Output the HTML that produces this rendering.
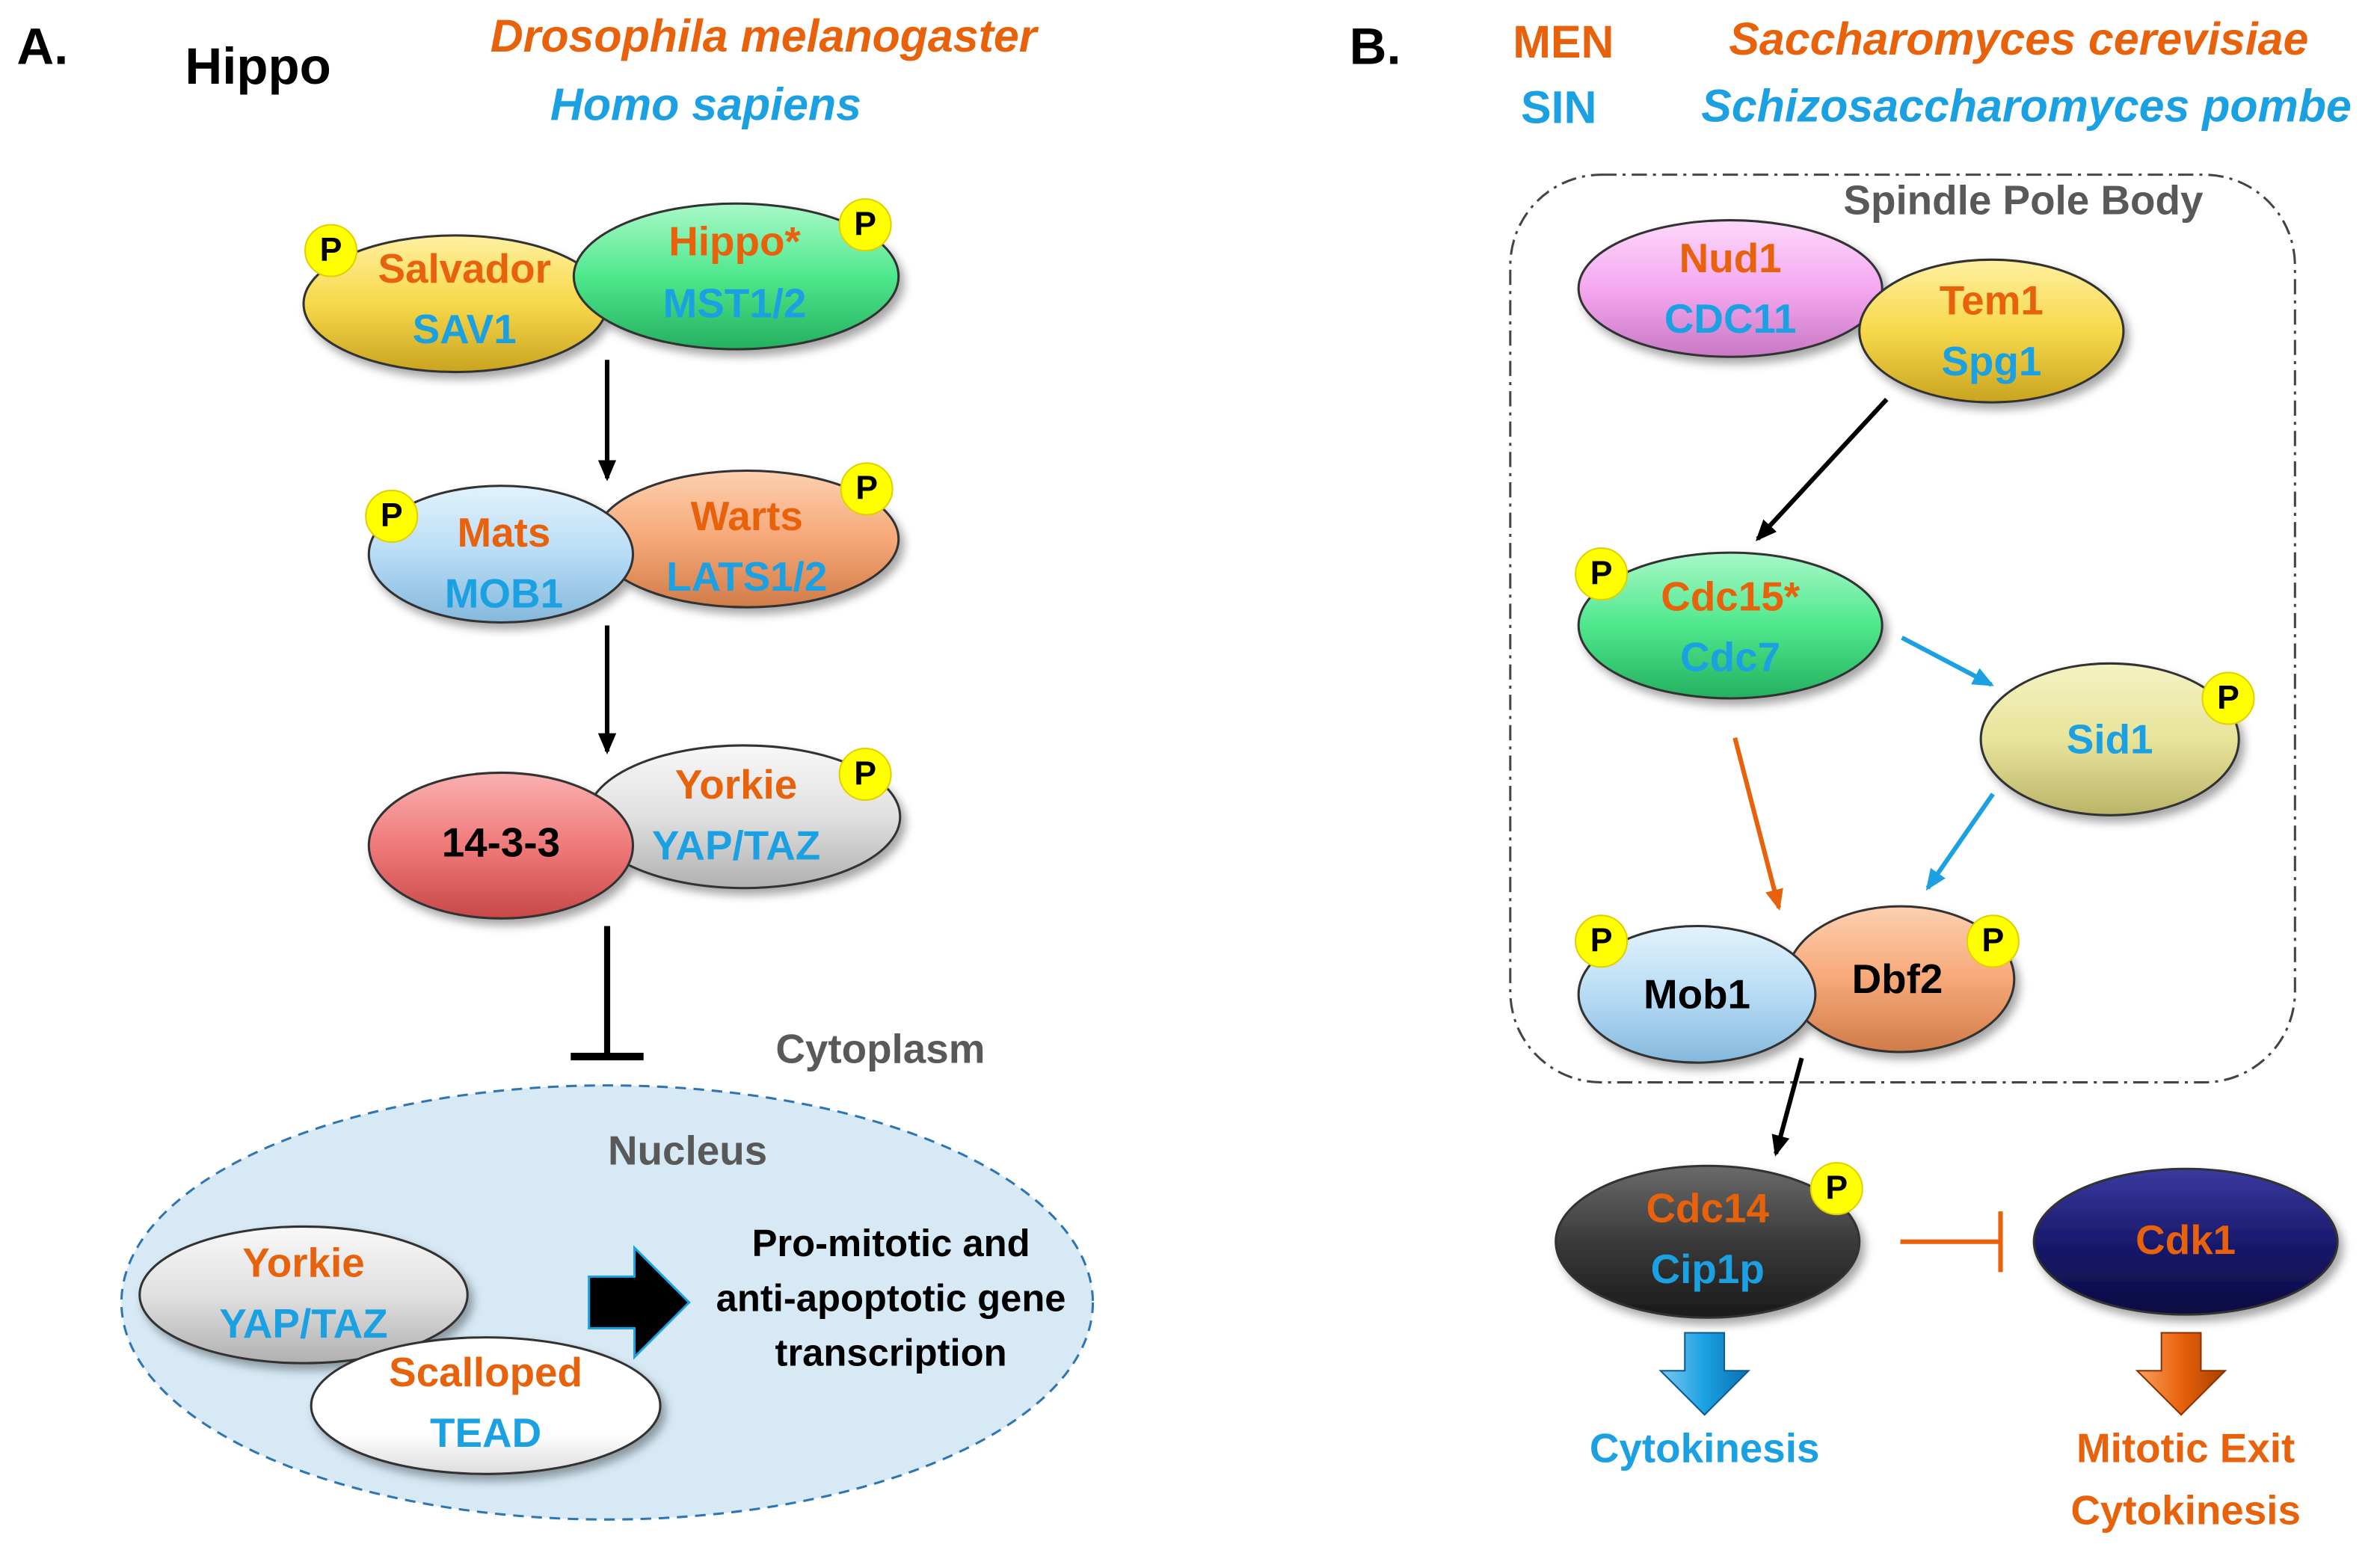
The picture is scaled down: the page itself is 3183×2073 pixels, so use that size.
<!DOCTYPE html>
<html><head><meta charset="utf-8"><style>
html,body{margin:0;padding:0;background:#fff;}
svg{display:block;}
text{font-family:"Liberation Sans",sans-serif;font-weight:bold;text-anchor:middle;dominant-baseline:middle;}
</style></head><body>
<svg width="3183" height="2073" viewBox="0 0 1568 1021" xmlns="http://www.w3.org/2000/svg">
<defs>
<filter id="sh" x="-20%" y="-20%" width="150%" height="160%"><feDropShadow dx="3" dy="4" stdDeviation="3" flood-color="#000" flood-opacity="0.35"/></filter>
<linearGradient id="gY" x1="0" y1="0" x2="0" y2="1"><stop offset="0" stop-color="#fff0a0"/><stop offset="0.5" stop-color="#f7d84a"/><stop offset="1" stop-color="#c9a420"/></linearGradient>
<linearGradient id="gG" x1="0" y1="0" x2="0" y2="1"><stop offset="0" stop-color="#a8f8c8"/><stop offset="0.5" stop-color="#4ee88c"/><stop offset="1" stop-color="#25b060"/></linearGradient>
<linearGradient id="gB" x1="0" y1="0" x2="0" y2="1"><stop offset="0" stop-color="#e2f2fc"/><stop offset="0.5" stop-color="#b8dcf5"/><stop offset="1" stop-color="#84b8dc"/></linearGradient>
<linearGradient id="gO" x1="0" y1="0" x2="0" y2="1"><stop offset="0" stop-color="#fcd0b0"/><stop offset="0.5" stop-color="#f7a878"/><stop offset="1" stop-color="#d07c48"/></linearGradient>
<linearGradient id="gGr" x1="0" y1="0" x2="0" y2="1"><stop offset="0" stop-color="#f8f8f8"/><stop offset="0.5" stop-color="#e0e0e0"/><stop offset="1" stop-color="#b0b0b0"/></linearGradient>
<linearGradient id="gR" x1="0" y1="0" x2="0" y2="1"><stop offset="0" stop-color="#fab0b0"/><stop offset="0.5" stop-color="#f07a7a"/><stop offset="1" stop-color="#c84848"/></linearGradient>
<linearGradient id="gW" x1="0" y1="0" x2="0" y2="1"><stop offset="0" stop-color="#ffffff"/><stop offset="0.7" stop-color="#ffffff"/><stop offset="1" stop-color="#dddddd"/></linearGradient>
<linearGradient id="gPk" x1="0" y1="0" x2="0" y2="1"><stop offset="0" stop-color="#fcd8fa"/><stop offset="0.5" stop-color="#f5a8f0"/><stop offset="1" stop-color="#c878c4"/></linearGradient>
<linearGradient id="gK" x1="0" y1="0" x2="0" y2="1"><stop offset="0" stop-color="#f4f2c4"/><stop offset="0.5" stop-color="#e8e49a"/><stop offset="1" stop-color="#bab468"/></linearGradient>
<linearGradient id="gD" x1="0" y1="0" x2="0" y2="1"><stop offset="0" stop-color="#6a6a6a"/><stop offset="0.5" stop-color="#3a3a3a"/><stop offset="1" stop-color="#1a1a1a"/></linearGradient>
<linearGradient id="gN" x1="0" y1="0" x2="0" y2="1"><stop offset="0" stop-color="#3a3aa0"/><stop offset="0.5" stop-color="#1a1a6e"/><stop offset="1" stop-color="#0a0a40"/></linearGradient>
<linearGradient id="gBA" x1="0" y1="0" x2="1" y2="0"><stop offset="0" stop-color="#7cc8f0"/><stop offset="0.5" stop-color="#1ba1e2"/><stop offset="1" stop-color="#0a70b0"/></linearGradient>
<linearGradient id="gOA" x1="0" y1="0" x2="1" y2="0"><stop offset="0" stop-color="#f8a060"/><stop offset="0.5" stop-color="#e8620c"/><stop offset="1" stop-color="#a84000"/></linearGradient>
<marker id="ak" markerWidth="10" markerHeight="10" refX="8" refY="5" orient="auto" markerUnits="userSpaceOnUse"><path d="M0,0 L10,5 L0,10 z" fill="#000"/></marker>
<marker id="ab" markerWidth="14" markerHeight="12" refX="12" refY="6" orient="auto" markerUnits="userSpaceOnUse"><path d="M0,0 L14,6 L0,12 z" fill="#1ba1e2"/></marker>
<marker id="ao" markerWidth="14" markerHeight="12" refX="12" refY="6" orient="auto" markerUnits="userSpaceOnUse"><path d="M0,0 L14,6 L0,12 z" fill="#e8620c"/></marker>
<marker id="ak2" markerWidth="14" markerHeight="12" refX="12" refY="6" orient="auto" markerUnits="userSpaceOnUse"><path d="M0,0 L14,6 L0,12 z" fill="#000"/></marker>
</defs>

<!-- Panel A -->
<text x="28" y="33" font-size="34" fill="#000">A.</text>
<text x="170" y="46" font-size="34" fill="#000">Hippo</text>
<text x="503" y="26" font-size="30" fill="#e8620c" font-style="italic">Drosophila melanogaster</text>
<text x="465" y="71" font-size="30" fill="#1ba1e2" font-style="italic">Homo sapiens</text>

<g filter="url(#sh)" stroke="#333" stroke-width="1.5">
<ellipse cx="300" cy="200" rx="100" ry="45" fill="url(#gY)"/>
<ellipse cx="485" cy="182" rx="107" ry="48" fill="url(#gG)"/>
<ellipse cx="492" cy="355" rx="100" ry="45" fill="url(#gO)"/>
<ellipse cx="330" cy="365" rx="87" ry="45" fill="url(#gB)"/>
<ellipse cx="490" cy="538" rx="103" ry="47" fill="url(#gGr)"/>
<ellipse cx="330" cy="557" rx="87" ry="48" fill="url(#gR)"/>
</g>
<text x="306" y="179" font-size="27" fill="#e8620c">Salvador</text>
<text x="306" y="219" font-size="27" fill="#1ba1e2">SAV1</text>
<text x="484" y="161" font-size="27" fill="#e8620c">Hippo*</text>
<text x="484" y="202" font-size="27" fill="#1ba1e2">MST1/2</text>
<text x="332" y="353" font-size="27" fill="#e8620c">Mats</text>
<text x="332" y="393" font-size="27" fill="#1ba1e2">MOB1</text>
<text x="492" y="342" font-size="27" fill="#e8620c">Warts</text>
<text x="492" y="382" font-size="27" fill="#1ba1e2">LATS1/2</text>
<text x="485" y="519" font-size="27" fill="#e8620c">Yorkie</text>
<text x="485" y="559" font-size="27" fill="#1ba1e2">YAP/TAZ</text>
<text x="330" y="557" font-size="27" fill="#000">14-3-3</text>

<line x1="400" y1="237" x2="400" y2="315" stroke="#000" stroke-width="3" marker-end="url(#ak2)"/>
<line x1="400" y1="412" x2="400" y2="495" stroke="#000" stroke-width="3" marker-end="url(#ak2)"/>
<line x1="400" y1="610" x2="400" y2="695" stroke="#000" stroke-width="4"/>
<line x1="376" y1="696" x2="424" y2="696" stroke="#000" stroke-width="5"/>
<text x="580" y="693" font-size="27" fill="#595959">Cytoplasm</text>

<ellipse cx="400" cy="858" rx="320" ry="143" fill="#d6e9f5" stroke="#2e75b6" stroke-width="1.5" stroke-dasharray="7,5"/>
<text x="453" y="760" font-size="27" fill="#595959">Nucleus</text>
<g filter="url(#sh)" stroke="#333" stroke-width="1.5">
<ellipse cx="200" cy="853" rx="108" ry="45" fill="url(#gGr)"/>
<ellipse cx="320" cy="926" rx="115" ry="45" fill="url(#gW)"/>
</g>
<text x="200" y="834" font-size="27" fill="#e8620c">Yorkie</text>
<text x="200" y="874" font-size="27" fill="#1ba1e2">YAP/TAZ</text>
<text x="320" y="906" font-size="27" fill="#e8620c">Scalloped</text>
<text x="320" y="946" font-size="27" fill="#1ba1e2">TEAD</text>
<path d="M388,841 L418,841 L418,822 L454,858 L418,894 L418,875 L388,875 z" fill="#000" stroke="#1ba1e2" stroke-width="1.5"/>
<text x="587" y="821" font-size="25" fill="#000">Pro-mitotic and</text>
<text x="587" y="857" font-size="25" fill="#000">anti-apoptotic gene</text>
<text x="587" y="893" font-size="25" fill="#000">transcription</text>

<!-- Panel B -->
<text x="906" y="33" font-size="34" fill="#000">B.</text>
<text x="1030" y="30" font-size="30" fill="#e8620c">MEN</text>
<text x="1027" y="73" font-size="30" fill="#1ba1e2">SIN</text>
<text x="1330" y="28" font-size="30" fill="#e8620c" font-style="italic">Saccharomyces cerevisiae</text>
<text x="1335" y="72" font-size="30" fill="#1ba1e2" font-style="italic">Schizosaccharomyces pombe</text>

<rect x="995" y="115" width="517" height="598" rx="60" fill="none" stroke="#444" stroke-width="1.5" stroke-dasharray="10,4,2,4"/>
<text x="1333" y="134" font-size="27" fill="#595959">Spindle Pole Body</text>

<g filter="url(#sh)" stroke="#333" stroke-width="1.5">
<ellipse cx="1140" cy="190" rx="100" ry="45" fill="url(#gPk)"/>
<ellipse cx="1312" cy="218" rx="87" ry="47" fill="url(#gY)"/>
<ellipse cx="1140" cy="412" rx="100" ry="48" fill="url(#gG)"/>
<ellipse cx="1390" cy="487" rx="85" ry="50" fill="url(#gK)"/>
<ellipse cx="1252" cy="645" rx="75" ry="48" fill="url(#gO)"/>
<ellipse cx="1118" cy="655" rx="78" ry="45" fill="url(#gB)"/>
<ellipse cx="1125" cy="818" rx="100" ry="50" fill="url(#gD)"/>
<ellipse cx="1440" cy="818" rx="100" ry="48" fill="url(#gN)"/>
</g>
<text x="1140" y="172" font-size="27" fill="#e8620c">Nud1</text>
<text x="1140" y="212" font-size="27" fill="#1ba1e2">CDC11</text>
<text x="1312" y="200" font-size="27" fill="#e8620c">Tem1</text>
<text x="1312" y="240" font-size="27" fill="#1ba1e2">Spg1</text>
<text x="1140" y="395" font-size="27" fill="#e8620c">Cdc15*</text>
<text x="1140" y="435" font-size="27" fill="#1ba1e2">Cdc7</text>
<text x="1390" y="489" font-size="27" fill="#1ba1e2">Sid1</text>
<text x="1118" y="657" font-size="27" fill="#000">Mob1</text>
<text x="1250" y="647" font-size="27" fill="#000">Dbf2</text>
<text x="1125" y="798" font-size="27" fill="#e8620c">Cdc14</text>
<text x="1125" y="838" font-size="27" fill="#1ba1e2">Cip1p</text>
<text x="1440" y="819" font-size="27" fill="#e8620c">Cdk1</text>

<line x1="1243" y1="263" x2="1158" y2="355" stroke="#000" stroke-width="3" marker-end="url(#ak2)"/>
<line x1="1253" y1="420" x2="1312" y2="451" stroke="#1ba1e2" stroke-width="3" marker-end="url(#ab)"/>
<line x1="1143" y1="486" x2="1172" y2="598" stroke="#e8620c" stroke-width="3" marker-end="url(#ao)"/>
<line x1="1313" y1="523" x2="1270" y2="585" stroke="#1ba1e2" stroke-width="3" marker-end="url(#ab)"/>
<line x1="1187" y1="697" x2="1170" y2="760" stroke="#000" stroke-width="3" marker-end="url(#ak2)"/>
<line x1="1252" y1="818" x2="1318" y2="818" stroke="#e8620c" stroke-width="3"/>
<line x1="1318" y1="798" x2="1318" y2="838" stroke="#e8620c" stroke-width="3"/>

<path d="M1110,878 L1136,878 L1136,903 L1152,903 L1123,932 L1094,903 L1110,903 z" fill="url(#gBA)" stroke="#0a5a90" stroke-width="1"/>
<path d="M1424,878 L1450,878 L1450,903 L1466,903 L1437,932 L1408,903 L1424,903 z" fill="url(#gOA)" stroke="#8a3000" stroke-width="1"/>
<text x="1123" y="956" font-size="27" fill="#1ba1e2">Cytokinesis</text>
<text x="1440" y="956" font-size="27" fill="#e8620c">Mitotic Exit</text>
<text x="1440" y="997" font-size="27" fill="#e8620c">Cytokinesis</text>

<!-- P badges -->
<g font-size="22">
<g><circle cx="218" cy="165" r="17" fill="#ffff00" stroke="#e0d000"/><text x="218" y="166" fill="#000">P</text></g>
<g><circle cx="570" cy="148" r="17" fill="#ffff00" stroke="#e0d000"/><text x="570" y="149" fill="#000">P</text></g>
<g><circle cx="258" cy="340" r="17" fill="#ffff00" stroke="#e0d000"/><text x="258" y="341" fill="#000">P</text></g>
<g><circle cx="571" cy="322" r="17" fill="#ffff00" stroke="#e0d000"/><text x="571" y="323" fill="#000">P</text></g>
<g><circle cx="570" cy="510" r="17" fill="#ffff00" stroke="#e0d000"/><text x="570" y="511" fill="#000">P</text></g>
<g><circle cx="1055" cy="378" r="17" fill="#ffff00" stroke="#e0d000"/><text x="1055" y="379" fill="#000">P</text></g>
<g><circle cx="1468" cy="460" r="17" fill="#ffff00" stroke="#e0d000"/><text x="1468" y="461" fill="#000">P</text></g>
<g><circle cx="1055" cy="620" r="17" fill="#ffff00" stroke="#e0d000"/><text x="1055" y="621" fill="#000">P</text></g>
<g><circle cx="1313" cy="620" r="17" fill="#ffff00" stroke="#e0d000"/><text x="1313" y="621" fill="#000">P</text></g>
<g><circle cx="1210" cy="783" r="17" fill="#ffff00" stroke="#e0d000"/><text x="1210" y="784" fill="#000">P</text></g>
</g>
</svg>
</body></html>
